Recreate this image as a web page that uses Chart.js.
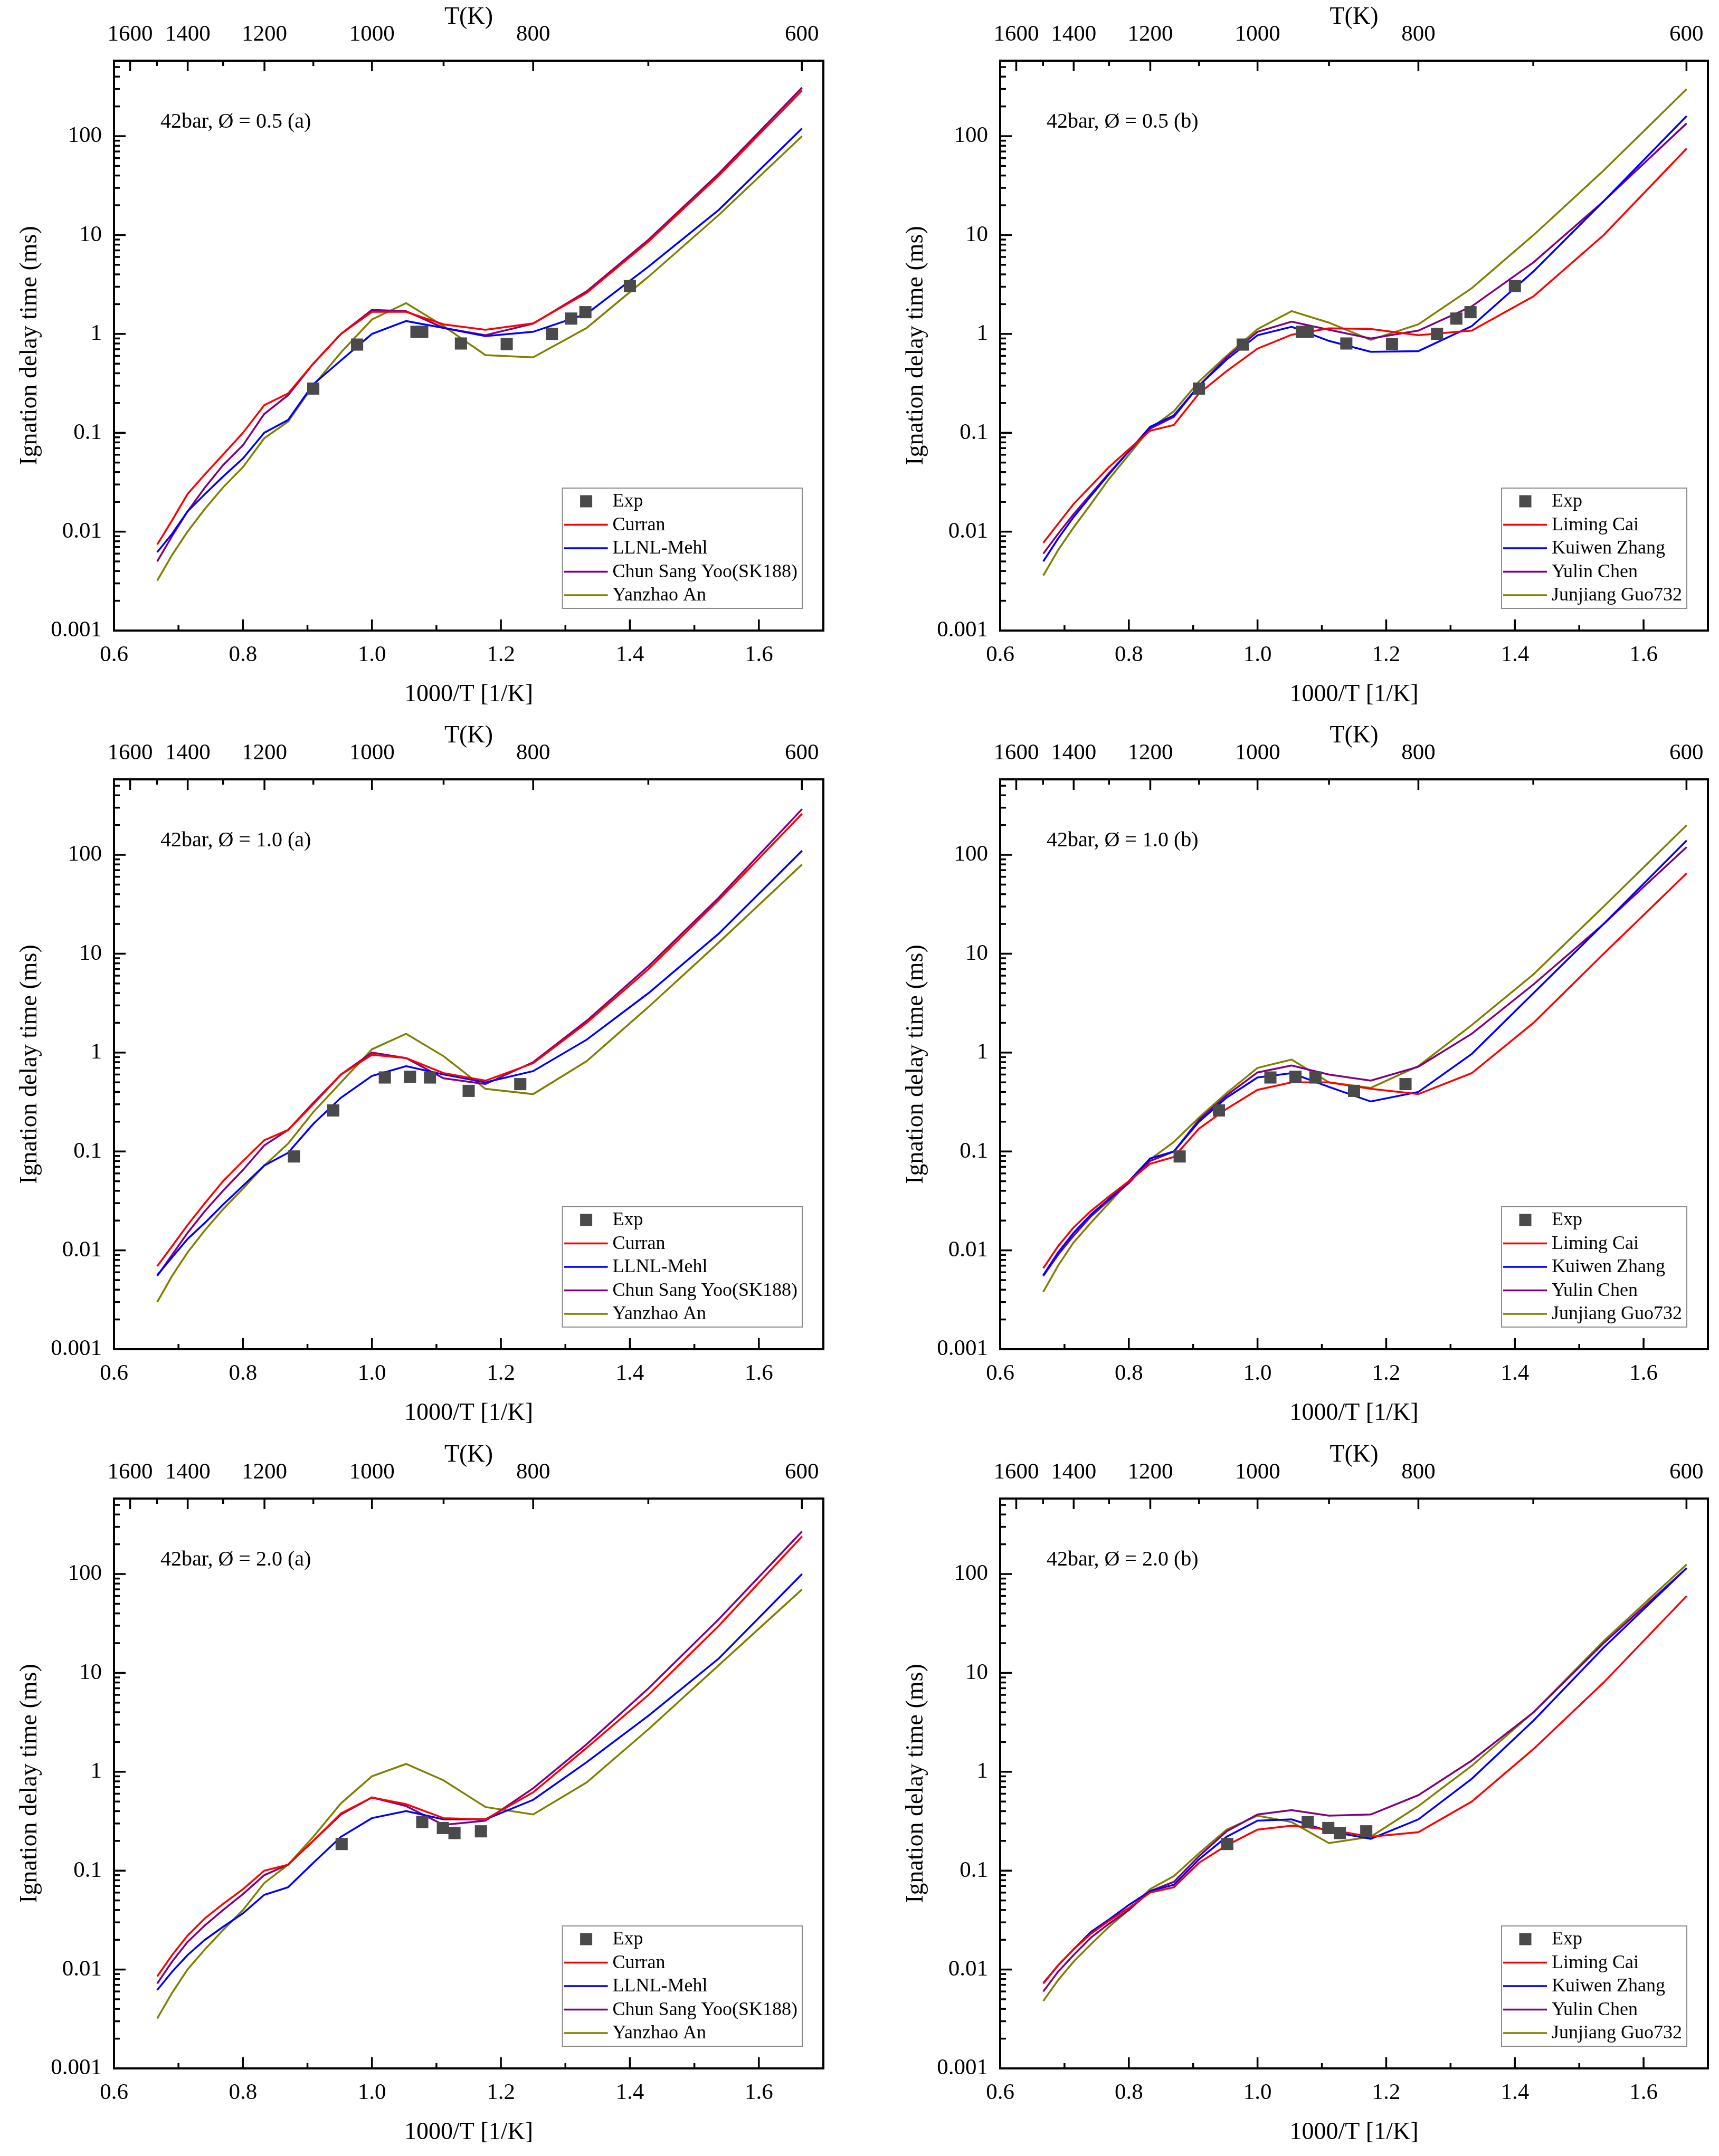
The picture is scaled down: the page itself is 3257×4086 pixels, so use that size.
<!DOCTYPE html>
<html>
<head>
<meta charset="utf-8">
<script src="https://cdn.jsdelivr.net/npm/chart.js@4.4.1/dist/chart.umd.min.js"></script>
<style>
html,body{margin:0;padding:0;background:#fff;width:3257px;height:4086px;overflow:hidden;}
canvas{position:absolute;}
</style>
</head>
<body>
<canvas id="c1"></canvas><canvas id="c2"></canvas>
<canvas id="c3"></canvas><canvas id="c4"></canvas>
<canvas id="c5"></canvas><canvas id="c6"></canvas>
<script>
// ---------- DATA ----------
const invT = [0.667,0.690,0.714,0.741,0.769,0.800,0.833,0.870,0.909,0.952,1.000,1.053,1.111,1.176,1.250,1.333,1.429,1.538,1.667];

// phi = 0.5 (a)
const curran_05 = [0.0074,0.013,0.024,0.038,0.06,0.1,0.19,0.25,0.5,1.0,1.67,1.67,1.25,1.1,1.28,2.6,8.6,40,290];
const mehl_05   = [0.0062,0.0095,0.016,0.024,0.036,0.055,0.1,0.135,0.31,0.54,1.0,1.35,1.15,0.95,1.05,1.6,4.8,18,120];
const yoo_05    = [0.005,0.009,0.016,0.028,0.047,0.075,0.155,0.24,0.5,1.0,1.75,1.7,1.15,0.97,1.27,2.7,9,42,310];
const an_05     = [0.0032,0.0058,0.01,0.017,0.028,0.045,0.088,0.13,0.3,0.65,1.4,2.05,1.2,0.61,0.58,1.15,3.8,16,100];
// phi = 0.5 (b)
const cai_05    = [0.0077,0.012,0.019,0.029,0.045,0.068,0.105,0.12,0.25,0.42,0.71,0.98,1.14,1.12,0.97,1.08,2.4,10,75];
const zhang_05  = [0.005,0.0085,0.014,0.023,0.038,0.065,0.115,0.15,0.3,0.55,0.97,1.18,0.85,0.66,0.67,1.2,4.3,22,160];
const chen_05   = [0.006,0.0095,0.015,0.024,0.039,0.065,0.11,0.145,0.3,0.58,1.05,1.33,1.1,0.9,1.08,1.9,5.3,22,135];
const guo_05    = [0.0036,0.0065,0.011,0.019,0.034,0.06,0.11,0.165,0.33,0.6,1.12,1.7,1.3,0.87,1.25,2.9,10,45,300];
// phi = 1.0 (a)
const curran_10 = [0.0069,0.011,0.018,0.03,0.05,0.08,0.13,0.165,0.3,0.6,0.95,0.88,0.62,0.52,0.78,2.0,7.0,35,260];
const mehl_10   = [0.0056,0.0085,0.013,0.019,0.029,0.045,0.072,0.097,0.19,0.35,0.58,0.73,0.6,0.5,0.65,1.35,4.0,16,110];
const yoo_10    = [0.0055,0.009,0.015,0.025,0.04,0.065,0.115,0.165,0.31,0.6,1.0,0.88,0.55,0.48,0.8,2.1,7.5,37,290];
const an_10     = [0.003,0.0055,0.0095,0.016,0.026,0.042,0.072,0.12,0.25,0.5,1.08,1.55,0.92,0.43,0.38,0.82,2.9,13,80];
// phi = 1.0 (b)
const cai_10    = [0.0066,0.011,0.017,0.025,0.035,0.05,0.075,0.088,0.17,0.27,0.42,0.5,0.5,0.43,0.38,0.62,2.0,10,65];
const zhang_10  = [0.0056,0.0095,0.015,0.023,0.033,0.05,0.085,0.1,0.2,0.35,0.56,0.62,0.45,0.32,0.4,0.97,4.0,20,140];
const chen_10   = [0.0055,0.009,0.014,0.022,0.032,0.048,0.08,0.1,0.21,0.37,0.63,0.74,0.6,0.52,0.72,1.55,4.9,20,120];
const guo_10    = [0.0038,0.007,0.012,0.019,0.03,0.05,0.083,0.125,0.22,0.39,0.7,0.85,0.5,0.44,0.73,1.9,6.2,30,200];
// phi = 2.0 (a)
const curran_20 = [0.0085,0.014,0.022,0.033,0.046,0.065,0.1,0.115,0.2,0.38,0.55,0.47,0.34,0.33,0.62,1.75,6.0,30,240];
const mehl_20   = [0.0062,0.0095,0.014,0.02,0.027,0.037,0.057,0.068,0.12,0.22,0.34,0.4,0.33,0.33,0.52,1.25,3.7,14,100];
const yoo_20    = [0.0072,0.012,0.019,0.028,0.04,0.058,0.09,0.115,0.2,0.37,0.55,0.45,0.29,0.32,0.68,1.9,7.0,35,270];
const an_20     = [0.0032,0.0058,0.01,0.016,0.025,0.04,0.075,0.115,0.22,0.48,0.9,1.2,0.82,0.44,0.37,0.78,2.7,12,70];
// phi = 2.0 (b)
const cai_20    = [0.0072,0.011,0.016,0.023,0.031,0.042,0.06,0.068,0.12,0.18,0.26,0.285,0.26,0.22,0.245,0.5,1.7,8,60];
const zhang_20  = [0.0073,0.011,0.016,0.024,0.032,0.045,0.062,0.072,0.13,0.22,0.32,0.33,0.25,0.21,0.33,0.85,3.3,18,115];
const chen_20   = [0.006,0.0095,0.014,0.021,0.029,0.04,0.062,0.077,0.14,0.25,0.37,0.41,0.36,0.37,0.58,1.3,4.0,20,115];
const guo_20    = [0.0048,0.0078,0.012,0.018,0.027,0.04,0.065,0.088,0.15,0.26,0.36,0.31,0.19,0.22,0.45,1.15,4.0,21,125];

// experiments
const expX_05 = [0.909,0.977,1.069,1.078,1.138,1.209,1.279,1.309,1.331,1.400];
const expY_05 = [0.28,0.78,1.05,1.05,0.80,0.79,1.0,1.43,1.66,3.05];
const expX_10 = [0.879,0.940,1.020,1.059,1.090,1.150,1.230];
const expY_10 = [0.089,0.26,0.56,0.57,0.56,0.41,0.48];
const expX_20 = [0.953,1.078,1.110,1.128,1.169];
const expY_20 = [0.186,0.31,0.27,0.24,0.25];

// labels
const NAMES_A = ['Curran','LLNL-Mehl','Chun Sang Yoo(SK188)','Yanzhao An'];
const NAMES_B = ['Liming Cai','Kuiwen Zhang','Yulin Chen','Junjiang Guo732'];
const COLORS = ['#ff0000','#0000ff','#800080','#808000'];

// tick labels
const X_TICKS = [0.6,0.7,0.8,0.9,1.0,1.1,1.2,1.3,1.4,1.5,1.6,1.7];
const X_LABELED = [0.6,0.8,1.0,1.2,1.4,1.6];
const X_LABEL_TXT = ['0.6','0.8','1.0','1.2','1.4','1.6'];
const T_TICKS = [1600,1500,1400,1300,1200,1100,1000,900,800,700,600];
const T_LABELED = [1600,1400,1200,1000,800,600];
const Y_MAJOR = [0.001,0.01,0.1,1,10,100];
const Y_LABEL_TXT = ['0.001','0.01','0.1','1','10','100'];
const Y_MAX = 580;

// ---------- LAYOUT ----------
const FONT = '"Liberation Serif", "Times New Roman", serif';
const ROW_H = 1361;
const LEFT_W = 216, TOP_H = 115, BOTTOM_H = 166, PLOT_W = 1344;

const PANELS = [
  {id:'c1', x:0,    y:0,    w:1679, note:'42bar, Ø = 0.5 (a)', names:NAMES_A, series:[curran_05,mehl_05,yoo_05,an_05], ex:expX_05, ey:expY_05},
  {id:'c2', x:1679, y:0,    w:1578, note:'42bar, Ø = 0.5 (b)', names:NAMES_B, series:[cai_05,zhang_05,chen_05,guo_05],  ex:expX_05, ey:expY_05},
  {id:'c3', x:0,    y:1362, w:1679, note:'42bar, Ø = 1.0 (a)', names:NAMES_A, series:[curran_10,mehl_10,yoo_10,an_10], ex:expX_10, ey:expY_10},
  {id:'c4', x:1679, y:1362, w:1578, note:'42bar, Ø = 1.0 (b)', names:NAMES_B, series:[cai_10,zhang_10,chen_10,guo_10],  ex:expX_10, ey:expY_10},
  {id:'c5', x:0,    y:2725, w:1679, note:'42bar, Ø = 2.0 (a)', names:NAMES_A, series:[curran_20,mehl_20,yoo_20,an_20], ex:expX_20, ey:expY_20},
  {id:'c6', x:1679, y:2725, w:1578, note:'42bar, Ø = 2.0 (b)', names:NAMES_B, series:[cai_20,zhang_20,chen_20,guo_20],  ex:expX_20, ey:expY_20}
];

function seg(ctx,x1,y1,x2,y2){ctx.beginPath();ctx.moveTo(x1,y1);ctx.lineTo(x2,y2);ctx.stroke();}

const framePlugin = {
  id:'frameTicks',
  afterDatasetsDraw(chart){
    const {ctx, chartArea:a, scales} = chart;
    ctx.save();
    ctx.strokeStyle = '#000';
    ctx.lineWidth = 3.5;
    // bottom axis ticks (inward)
    scales.x.ticks.forEach(t=>{
      const v = t.value;
      if (v <= 0.6001 || v >= 1.6999) return;
      const p = scales.x.getPixelForValue(v);
      const major = X_LABELED.some(u=>Math.abs(u-v)<1e-6);
      seg(ctx,p,a.bottom,p,a.bottom-(major?21:10));
    });
    // top axis ticks (inward)
    scales.x2.ticks.forEach((t,i)=>{
      const p = scales.x2.getPixelForValue(t.value);
      const major = T_LABELED.includes(T_TICKS[i]);
      seg(ctx,p,a.top,p,a.top+(major?20:10));
    });
    // left axis ticks (inward)
    scales.y.ticks.forEach(t=>{
      const v = t.value;
      if (v <= 0.0010001) return;
      const p = scales.y.getPixelForValue(v);
      const major = t.major;
      seg(ctx,a.left,p,a.left+(major?22:11),p);
    });
    // frame
    ctx.lineWidth = 4;
    ctx.strokeRect(a.left, a.top, a.right-a.left, a.bottom-a.top);
    ctx.restore();
  }
};

const legendPlugin = {
  id:'boxLegend',
  afterDraw(chart, args, opts){
    const {ctx, chartArea:a} = chart;
    const ds = chart.data.datasets;
    ctx.save();
    // annotation
    ctx.font = '40px ' + FONT;
    ctx.fillStyle = '#000';
    ctx.textBaseline = 'middle';
    ctx.textAlign = 'left';
    ctx.fillText(opts.note, a.left + 88, a.top + 116);
    // legend box
    ctx.font = '36px ' + FONT;
    let tw = 0;
    ds.forEach(d=>{tw = Math.max(tw, ctx.measureText(d.label).width);});
    const w = 95 + tw + 9, h = 228;
    const bx = a.right - 40 - w, by = a.bottom - 42 - h;
    ctx.fillStyle = '#fff';
    ctx.fillRect(bx,by,w,h);
    ctx.strokeStyle = '#8c8c8c';
    ctx.lineWidth = 2;
    ctx.strokeRect(bx,by,w,h);
    ds.forEach((d,i)=>{
      const cy = by + 25 + i*44.5;
      if (d.showLine === false) {
        ctx.fillStyle = d.backgroundColor;
        ctx.fillRect(bx+45-11.5, cy-11.5, 23, 23);
      } else {
        ctx.strokeStyle = d.borderColor;
        ctx.lineWidth = 3.5;
        seg(ctx,bx+3,cy,bx+86,cy);
      }
      ctx.fillStyle = '#000';
      ctx.fillText(d.label, bx+95, cy+1);
    });
    ctx.restore();
  }
};

function makePanel(p){
  const cv = document.getElementById(p.id);
  cv.width = p.w; cv.height = ROW_H;
  cv.style.left = p.x + 'px'; cv.style.top = p.y + 'px';
  cv.style.width = p.w + 'px'; cv.style.height = ROW_H + 'px';

  const datasets = [{
    label:'Exp',
    data: p.ex.map((x,i)=>({x:x, y:p.ey[i]})),
    showLine:false,
    pointStyle:'rect',
    pointRadius:16.3,
    pointBackgroundColor:'#4a4a4a',
    backgroundColor:'#4a4a4a',
    pointBorderWidth:0,
    borderWidth:0
  }];
  p.series.forEach((s,k)=>{
    datasets.push({
      label:p.names[k],
      data: invT.map((x,i)=>({x:x, y:s[i]})),
      borderColor:COLORS[k],
      backgroundColor:COLORS[k],
      borderWidth:3.5,
      pointRadius:0,
      tension:0,
      fill:false
    });
  });

  const tickFont = {family:FONT, size:43};
  const titleFont = {family:FONT, size:46};

  new Chart(cv, {
    type:'line',
    data:{datasets},
    plugins:[framePlugin, legendPlugin],
    options:{
      responsive:false,
      animation:false,
      devicePixelRatio:1,
      layout:{padding:{left:0, top:0, bottom:0, right:p.w - LEFT_W - PLOT_W}},
      plugins:{legend:{display:false}, tooltip:{enabled:false}, boxLegend:{note:p.note}},
      scales:{
        x:{
          type:'linear', position:'bottom', min:0.6, max:1.7,
          afterBuildTicks:s=>{s.ticks = X_TICKS.map(v=>({value:v}));},
          afterFit:s=>{s.height = BOTTOM_H;},
          grid:{display:false, drawTicks:false, tickLength:0},
          border:{display:false},
          ticks:{autoSkip:false, maxRotation:0, minRotation:0, padding:21, color:'#000', font:tickFont,
            callback:(v)=>{const i = X_LABELED.findIndex(u=>Math.abs(u-v)<1e-6); return i>=0 ? X_LABEL_TXT[i] : '';}},
          title:{display:true, text:'1000/T [1/K]', color:'#000', font:titleFont, padding:{top:0, bottom:16}}
        },
        x2:{
          type:'linear', position:'top', min:0.6, max:1.7,
          afterBuildTicks:s=>{s.ticks = T_TICKS.map(t=>({value:1000/t}));},
          afterFit:s=>{s.height = TOP_H;},
          grid:{display:false, drawTicks:false, tickLength:0},
          border:{display:false},
          ticks:{autoSkip:false, maxRotation:0, minRotation:0, padding:23, color:'#000', font:tickFont,
            callback:(v,i)=>T_LABELED.includes(T_TICKS[i]) ? String(T_TICKS[i]) : ''},
          title:{display:true, text:'T(K)', color:'#000', font:titleFont, padding:{top:5, bottom:0}}
        },
        y:{
          type:'logarithmic', position:'left', min:0.001, max:Y_MAX,
          afterBuildTicks:s=>{
            const t = [];
            Y_MAJOR.forEach(d=>{
              for (let m=1; m<=9; m++){
                const v = d*m;
                if (v <= Y_MAX) t.push({value:v, major:m===1});
              }
            });
            s.ticks = t;
          },
          afterFit:s=>{s.width = LEFT_W;},
          grid:{display:false, drawTicks:false, tickLength:0},
          border:{display:false},
          ticks:{autoSkip:false, padding:23, color:'#000', font:tickFont,
            callback:(v)=>{const i = Y_MAJOR.findIndex(u=>Math.abs(u-v)/u<1e-6); return i>=0 ? Y_LABEL_TXT[i] : '';}},
          title:{display:true, text:'Ignation delay time (ms)', color:'#000', font:titleFont, padding:{top:29, bottom:0}}
        }
      }
    }
  });
}

PANELS.forEach(makePanel);
</script>
</body>
</html>
